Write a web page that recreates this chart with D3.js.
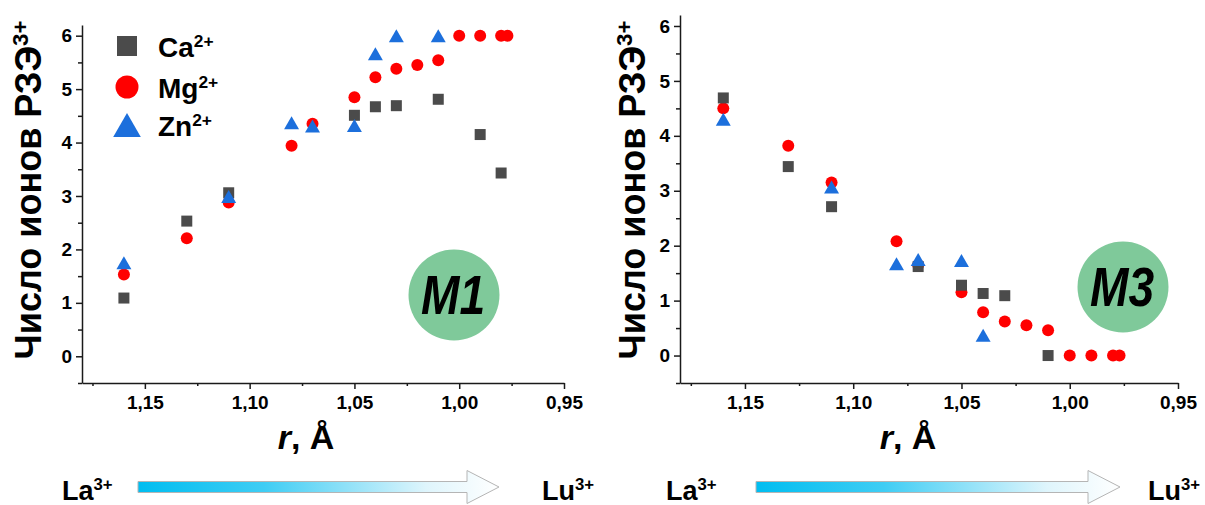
<!DOCTYPE html>
<html>
<head>
<meta charset="utf-8">
<script src="https://cdn.jsdelivr.net/npm/d3@7"></script>
<style>
  body { margin: 0; background: #fff; }
  svg { display: block; }
  text { font-family: Arial, "Liberation Sans", sans-serif; font-weight: bold; fill: #000; }
</style>
</head>
<body>
<svg id="chart" width="1205" height="505"></svg>
<script>
// ---- data -------------------------------------------------------------
const radiusTicks = [1.15, 1.10, 1.05, 1.00, 0.95];
const countTicks = [0, 1, 2, 3, 4, 5, 6];
const legendLabels = ["Ca", "Mg", "Zn"];
const legendCharges = ["2+", "2+", "2+"];

// Panel M1
const m1CaR = [1.16, 1.13, 1.11, 1.05, 1.04, 1.03, 1.01, 0.99, 0.98];
const m1CaN = [1.09, 2.53, 3.06, 4.51, 4.67, 4.69, 4.81, 4.15, 3.43];
const m1MgR = [1.16, 1.13, 1.11, 1.08, 1.07, 1.05, 1.04, 1.03, 1.02, 1.01, 1.00, 0.99, 0.98, 0.977];
const m1MgN = [1.53, 2.21, 2.88, 3.94, 4.35, 4.85, 5.22, 5.38, 5.45, 5.54, 6.00, 6.00, 6.00, 6.00];
const m1ZnR = [1.16, 1.11, 1.08, 1.07, 1.05, 1.04, 1.03, 1.01];
const m1ZnN = [1.75, 2.99, 4.37, 4.31, 4.32, 5.66, 6.00, 6.00];

// Panel M3
const m3CaR = [1.16, 1.13, 1.11, 1.07, 1.05, 1.04, 1.03, 1.01];
const m3CaN = [4.69, 3.44, 2.71, 1.62, 1.28, 1.13, 1.09, 0.00];
const m3MgR = [1.16, 1.13, 1.11, 1.08, 1.07, 1.05, 1.04, 1.03, 1.02, 1.01, 1.00, 0.99, 0.98, 0.977];
const m3MgN = [4.50, 3.82, 3.15, 2.08, 1.65, 1.15, 0.79, 0.62, 0.55, 0.46, 0.00, 0.00, 0.00, 0.00];
const m3ZnR = [1.16, 1.11, 1.08, 1.07, 1.05, 1.04];
const m3ZnN = [4.30, 3.07, 1.67, 1.75, 1.73, 0.37];

// ---- styling -----------------------------------------------------------
const colors = { Ca: "#4b4b4b", Mg: "#ff0000", Zn: "#1c6fdc" };
const svg = d3.select("#chart");
const fmtRadius = v => d3.format(".2f")(v).replace(".", ",");

// marker shapes, centred on (0,0)
function markerPath(kind, s) {
  if (kind === "Ca") return `M${-s/2},${-s/2}h${s}v${s}h${-s}Z`;
  if (kind === "Zn") {
    const w = s * 1.15, h = s;
    return `M0,${-h/2}L${w/2},${h/2}L${-w/2},${h/2}Z`;
  }
  return null;
}
function drawMarker(g, kind, x, y, s) {
  if (kind === "Mg") {
    g.append("circle").attr("cx", x).attr("cy", y).attr("r", s / 2).attr("fill", colors.Mg);
  } else {
    g.append("path").attr("d", markerPath(kind, s))
      .attr("transform", `translate(${x},${y})`).attr("fill", colors[kind]);
  }
}

function supText(sel, base, sup, size, supScale, raise) {
  sel.append("tspan").text(base);
  sel.append("tspan").attr("font-size", size * supScale).attr("dy", -raise).text(sup);
}

// ---- one panel --------------------------------------------------------
function panel(cfg) {
  const x = d3.scaleLinear().domain([1.18, 0.95]).range([cfg.x0, cfg.x1]);
  const y = d3.scaleLinear().domain([-0.5, 6.2]).range([cfg.yBot, cfg.yTop]);
  const g = svg.append("g");

  // minor ticks
  g.append("g").attr("transform", `translate(0,${cfg.yBot})`)
    .call(d3.axisBottom(x).tickValues(d3.range(1.175, 0.95, -0.05)).tickSize(3).tickFormat(""))
    .call(a => a.select(".domain").remove());
  g.append("g").attr("transform", `translate(${cfg.x0},0)`)
    .call(d3.axisLeft(y).tickValues(d3.range(-0.5, 6.1, 1)).tickSize(4).tickFormat(""))
    .call(a => a.select(".domain").remove());

  // main axes
  const xa = g.append("g").attr("transform", `translate(0,${cfg.yBot})`)
    .call(d3.axisBottom(x).tickValues(radiusTicks).tickFormat(fmtRadius).tickSize(6).tickSizeOuter(0).tickPadding(7));
  const ya = g.append("g").attr("transform", `translate(${cfg.x0},0)`)
    .call(d3.axisLeft(y).tickValues(countTicks).tickFormat(d3.format("d")).tickSize(6).tickSizeOuter(0).tickPadding(4));
  [xa, ya].forEach(a => {
    a.selectAll("text").attr("font-size", 19).attr("font-family", "Arial, 'Liberation Sans', sans-serif").attr("font-weight", "bold");
  });
  g.selectAll(".domain, .tick line").attr("stroke", "#1a1a1a").attr("stroke-width", 1.5);

  // data points: Mg first, then Ca, then Zn on top
  const pts = g.append("g");
  cfg.mgR.forEach((r, i) => drawMarker(pts, "Mg", x(r), y(cfg.mgN[i]), 12));
  cfg.caR.forEach((r, i) => drawMarker(pts, "Ca", x(r), y(cfg.caN[i]), 11));
  cfg.znR.forEach((r, i) => drawMarker(pts, "Zn", x(r), y(cfg.znN[i]), 13));

  // axis titles
  const yt = g.append("text")
    .attr("transform", `translate(${cfg.yTitleX},190) rotate(-90)`)
    .attr("text-anchor", "middle").attr("font-size", 36);
  supText(yt, "Число ионов РЗЭ", "3+", 36, 0.62, 13);

  const xt = g.append("text").attr("x", cfg.xTitleX).attr("y", 449)
    .attr("text-anchor", "middle").attr("font-size", 34);
  xt.append("tspan").attr("font-style", "italic").text("r");
  xt.append("tspan").text(", Å");

  // badge
  g.append("circle").attr("cx", cfg.badge[0]).attr("cy", cfg.badge[1]).attr("r", 45.5).attr("fill", "#7fc99a");
  g.append("text")
    .attr("transform", `translate(${cfg.badge[0] - 1},${cfg.badge[1] + 19}) scale(0.84,1)`)
    .attr("text-anchor", "middle").attr("font-size", 55).attr("font-style", "italic")
    .text(cfg.badgeText);

  // La -> Lu arrow
  const a0 = cfg.arrow[0], a1 = cfg.arrow[1];
  g.append("path")
    .attr("d", `M${a0},481.5H${a1 - 32}V470.5L${a1},487L${a1 - 32},503.5V492.5H${a0}Z`)
    .attr("fill", "url(#arrowGrad)").attr("stroke", "#b5b5b5").attr("stroke-width", 1);
  supText(g.append("text").attr("x", cfg.la).attr("y", 500).attr("font-size", 27), "La", "3+", 27, 0.62, 10);
  supText(g.append("text").attr("x", cfg.lu).attr("y", 500).attr("font-size", 27), "Lu", "3+", 27, 0.62, 10);
}

// gradient for the arrows
const grad = svg.append("defs").append("linearGradient").attr("id", "arrowGrad")
  .attr("x1", "0").attr("x2", "1").attr("y1", "0").attr("y2", "0");
grad.append("stop").attr("offset", "0").attr("stop-color", "#00bdf0");
grad.append("stop").attr("offset", "0.35").attr("stop-color", "#3fcdf4");
grad.append("stop").attr("offset", "0.8").attr("stop-color", "#dff5fc");
grad.append("stop").attr("offset", "1").attr("stop-color", "#ffffff");

panel({ x0: 82, x1: 564, yTop: 25, yBot: 383, yTitleX: 41, xTitleX: 306,
  caR: m1CaR, caN: m1CaN, mgR: m1MgR, mgN: m1MgN, znR: m1ZnR, znN: m1ZnN,
  badge: [454, 295], badgeText: "M1", arrow: [138, 499], la: 62, lu: 542 });
panel({ x0: 680, x1: 1178, yTop: 15, yBot: 383, yTitleX: 645, xTitleX: 908,
  caR: m3CaR, caN: m3CaN, mgR: m3MgR, mgN: m3MgN, znR: m3ZnR, znN: m3ZnN,
  badge: [1123, 287], badgeText: "M3", arrow: [756, 1120], la: 666, lu: 1148 });

// legend (first panel)
const leg = svg.append("g");
const legY = [46, 87, 125];
const legSize = { Ca: 20, Mg: 23, Zn: 24 };
legendLabels.forEach((k, i) => {
  drawMarker(leg, k, 127, legY[i], legSize[k]);
  const t = leg.append("text").attr("x", 158).attr("y", legY[i] + 11).attr("font-size", 28);
  supText(t, k, legendCharges[i], 28, 0.62, 10);
});
</script>
</body>
</html>
